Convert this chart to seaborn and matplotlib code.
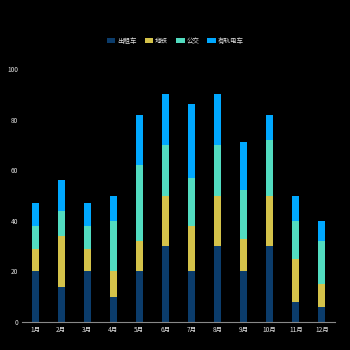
import matplotlib
matplotlib.use("Agg")
import matplotlib.pyplot as plt
import seaborn as sns
import numpy as np
from matplotlib.patches import Patch

months = ["1月", "2月", "3月", "4月", "5月", "6月", "7月", "8月", "9月", "10月", "11月", "12月"]
taxi = [20, 14, 20, 10, 20, 30, 20, 30, 20, 30, 8, 6]
subway = [9, 20, 9, 10, 12, 20, 18, 20, 13, 20, 17, 9]
bus = [9, 10, 9, 20, 30, 20, 19, 20, 19, 22, 15, 17]
tram = [9, 12, 9, 10, 20, 20, 29, 20, 19, 10, 10, 8]
series_names = ["出租车", "地铁", "公交", "有轨电车"]
colors = ["#0b3c6b", "#d4c24a", "#52dcc0", "#00a8ff"]

sns.set_style("dark")
plt.rcParams['font.family'] = ['Noto Sans CJK SC', 'DejaVu Sans']

fig = plt.figure(figsize=(3.5, 3.5), dpi=100, facecolor="black")
ax = fig.add_axes([22/350, 1-322/350, (335-22)/350, (322-69)/350])
ax.set_facecolor("black")

bottom = np.zeros(len(months))
for name, vals, c in zip(series_names, [taxi, subway, bus, tram], colors):
    sns.barplot(x=months, y=vals, bottom=bottom, color=c, width=0.27, ax=ax,
                linewidth=0, saturation=1)
    bottom = bottom + np.array(vals)

ax.set_ylim(0, 100)
ax.set_xlim(-0.5, 11.5)
ax.set_yticks([0, 20, 40, 60, 80, 100])
ax.tick_params(axis='both', length=0, labelsize=4.7, colors="#e0e0e0", pad=3)
ax.grid(False)
for s in ["top", "right", "left"]:
    ax.spines[s].set_visible(False)
ax.spines["bottom"].set_visible(True)
ax.spines["bottom"].set_color("#888888")
ax.spines["bottom"].set_linewidth(0.8)
ax.set_xlabel("")
ax.set_ylabel("")

handles = [Patch(facecolor=c, edgecolor="none") for c in colors]
fig.legend(handles, series_names, loc="center", bbox_to_anchor=(0.501, 1-41/350),
           ncol=4, frameon=False, fontsize=4.7, labelcolor="#e0e0e0",
           handlelength=1.3, handleheight=0.8, handletextpad=0.3, columnspacing=1.2)

fig.savefig("out.png", dpi=100, facecolor="black")
